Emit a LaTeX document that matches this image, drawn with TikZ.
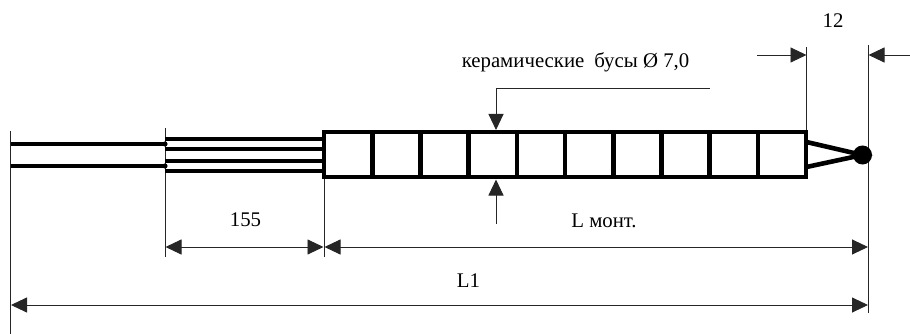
\documentclass[tikz,border=0pt]{standalone}
\usepackage{fontspec}
\setmainfont{Liberation Serif}
\usetikzlibrary{arrows.meta}
\tikzset{
    wire/.style={line width=4.6pt},
    thin line/.style={line width=0.9pt, black!85},
    dim/.style={thin line, {Triangle[length=16pt,width=15pt]}-{Triangle[length=16pt,width=15pt]}, shorten <=0.5pt, shorten >=0.5pt},
    lead/.style={thin line, -{Triangle[length=16pt,width=15pt]}},
    label/.style={font=\fontsize{20.8pt}{23pt}\selectfont, inner sep=0pt, anchor=base},
}
\begin{document}
\begin{tikzpicture}[x=1pt, y=-1pt]
    \useasboundingbox (0,0) rectangle (910,334);
    \def\n{10}
    \def\w{48.2}
    % the reference points along the part
    \coordinate (cableend) at (10.5,0);
    \coordinate (splitend) at (165,0);
    \coordinate (boxstart) at (324,0);
    \coordinate (boxend) at (806.5,0);
    \coordinate (tipend) at (868.5,0);

    % extension lines
    \draw[thin line] (cableend |- 0,131) coordinate (a1) -- (cableend |- 0,334) coordinate (a2);
    \draw[thin line] (splitend |- 0,128) coordinate (b1) -- (splitend |- 0,257) coordinate (b2);
    \draw[thin line] (boxstart |- 0,178) coordinate (c1) -- (boxstart |- 0,257) coordinate (c2);
    \draw[thin line] (boxend |- 0,47) coordinate (d1) -- (boxend |- 0,131) coordinate (d2);
    \draw[thin line] (tipend |- 0,45) coordinate (e1) -- (tipend |- 0,313) coordinate (e2);

    % cable, then the split wires
    \foreach \y in {144,166}{
        \draw[wire] (cableend |- 0,\y) -- (splitend |- 0,\y);
    }
    \foreach \y in {139,149,161,171}{
        \draw[wire] (splitend |- 0,\y) -- (boxstart |- 0,\y);
    }
    \fill (165,144) circle (2.6pt) (165,166) circle (2.6pt);

    % ceramic beads
    \foreach \i in {1,...,\n}{
        \draw[wire] (324+\i*\w-\w,132) rectangle (324+\i*\w,177);
    }

    % junction
    \node[circle, fill=black, minimum size=19pt, inner sep=0pt] (ball) at (862.5,155) {};
    \draw[wire] (806.5,142) -- (ball.center) -- (806.5,167);

    % dimensions
    \draw[dim] (splitend |- 0,247) -- (boxstart |- 0,247);
    \draw[dim] (boxstart |- 0,247) -- (tipend |- 0,247);
    \draw[dim] (cableend |- 0,305) -- (tipend |- 0,305);
    \coordinate (p1) at (757,55);
    \coordinate (p2) at (910,55);
    \draw[lead] (p1) -- (boxend |- p1);
    \draw[lead] (p2) -- (tipend |- p2);
    \coordinate (q1) at (710,88);
    \coordinate (q2) at (496,130);
    \coordinate (q3) at (496,224);
    \coordinate (q4) at (496,179.5);
    \draw[lead] (q1) -| (q2);
    \draw[lead] (q3) -- (q4);

    % labels
    \node[label] (twelve) at (833,28) {12};
    \node[label] (beads) at (575.5,68) {керамические\hspace{10pt}бусы Ø 7,0};
    \node[label] (lena) at (245.5,226) {155};
    \node[label] (lenb) at (604,227) {L монт.};
    \node[label] (lenc) at (468.5,287) {L1};
\end{tikzpicture}
\end{document}
